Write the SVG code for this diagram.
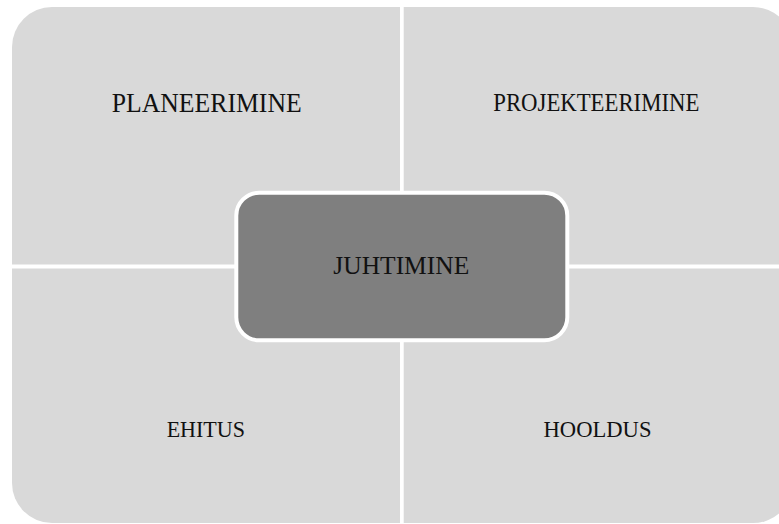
<svg xmlns="http://www.w3.org/2000/svg" width="779" height="524" viewBox="0 0 779 524">
  <style>
    .quad { fill: #d9d9d9; }
    .center { fill: #7f7f7f; stroke: #ffffff; stroke-width: 4; }
    .lbl { font-family: "Liberation Serif", "Times New Roman", serif; fill: #111111; text-anchor: middle; }
    .div { stroke: #ffffff; stroke-width: 4; }
  </style>
  <rect width="779" height="524" fill="#ffffff"/>
  <g id="quadrants">
    <g id="planeerimine">
      <path class="quad" d="M12,47 A40,40 0 0 1 52,7 L400,7 L400,264.5 L12,264.5 Z"/>
      <text class="lbl" x="206.7" y="111.7" font-size="28" textLength="190" lengthAdjust="spacingAndGlyphs">PLANEERIMINE</text>
    </g>
    <g id="projekteerimine">
      <path class="quad" d="M403.7,7 L753,7 A40,40 0 0 1 793,47 L793,264.5 L403.7,264.5 Z"/>
      <text class="lbl" x="596.3" y="111" font-size="25" textLength="206" lengthAdjust="spacingAndGlyphs">PROJEKTEERIMINE</text>
    </g>
    <g id="ehitus">
      <path class="quad" d="M12,268.5 L400,268.5 L400,523 L52,523 A40,40 0 0 1 12,483 Z"/>
      <text class="lbl" x="205.8" y="437.3" font-size="23.5" textLength="78.3" lengthAdjust="spacingAndGlyphs">EHITUS</text>
    </g>
    <g id="hooldus">
      <path class="quad" d="M403.7,268.5 L793,268.5 L793,483 A40,40 0 0 1 753,523 L403.7,523 Z"/>
      <text class="lbl" x="597.5" y="437.3" font-size="23.5" textLength="108" lengthAdjust="spacingAndGlyphs">HOOLDUS</text>
    </g>
  </g>
  <g id="connectors"></g>
  <g id="juhtimine">
    <rect class="center" x="236.3" y="192.7" width="331" height="147.6" rx="23" ry="23"/>
    <text class="lbl" x="401.3" y="274" font-size="26" textLength="136" lengthAdjust="spacingAndGlyphs">JUHTIMINE</text>
  </g>
</svg>
